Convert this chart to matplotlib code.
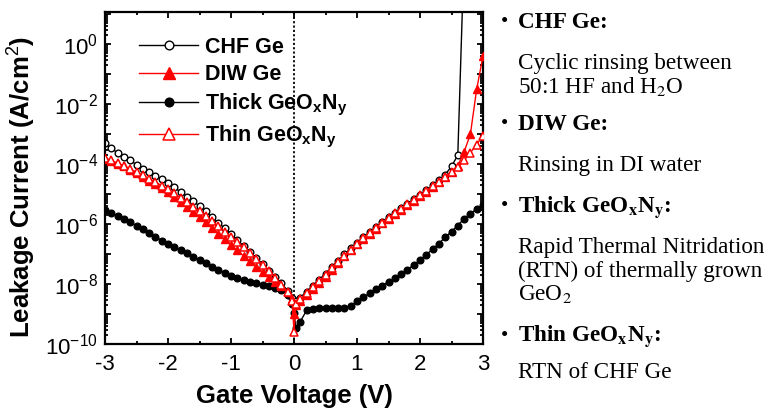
import numpy as np
import matplotlib
matplotlib.use("Agg")
import matplotlib.pyplot as plt
from matplotlib.ticker import LogLocator, FuncFormatter, MultipleLocator, NullFormatter

plt.rcParams['font.family'] = ['Liberation Sans', 'DejaVu Sans']
plt.rcParams['mathtext.fontset'] = 'custom'
plt.rcParams['mathtext.rm'] = 'Liberation Sans'
plt.rcParams['mathtext.it'] = 'Liberation Sans:italic'
plt.rcParams['mathtext.bf'] = 'Liberation Sans:bold'
plt.rcParams['axes.unicode_minus'] = False

# gate voltage samples (V)
volts = np.concatenate([np.arange(-3.0, -0.05, 0.1), [-0.03, 0.0, 0.03], np.arange(0.1, 3.05, 0.1)])

# log10 of leakage current density (A/cm^2)
chf_log = [-3.30, -3.48, -3.62, -3.76, -3.88, -4.02, -4.15, -4.27, -4.39, -4.51,
           -4.63, -4.78, -4.93, -5.09, -5.24, -5.40, -5.58, -5.77, -5.96, -6.14,
           -6.33, -6.53, -6.73, -6.93, -7.13, -7.33, -7.55, -7.76, -7.98, -8.22,
           -8.45, -8.60, -8.55,
           -8.45, -8.25, -8.05, -7.85, -7.65, -7.44, -7.22, -7.01, -6.81, -6.62,
           -6.44, -6.27, -6.10, -5.93, -5.77, -5.62, -5.47, -5.32, -5.17, -5.02,
           -4.87, -4.71, -4.54, -4.35, -4.08, -3.70, 3.0, np.nan, np.nan, np.nan]

diw_log = [-3.82, -3.90, -3.99, -4.08, -4.19, -4.31, -4.43, -4.55, -4.68, -4.80,
           -4.93, -5.09, -5.25, -5.42, -5.59, -5.75, -5.94, -6.13, -6.32, -6.51,
           -6.70, -6.88, -7.06, -7.24, -7.42, -7.60, -7.78, -7.93, -8.07, -8.28,
           -8.50, -9.00, -8.70,
           -8.55, -8.35, -8.15, -7.95, -7.75, -7.53, -7.30, -7.08, -6.88, -6.68,
           -6.50, -6.32, -6.15, -5.98, -5.82, -5.67, -5.52, -5.37, -5.22, -5.07,
           -4.92, -4.76, -4.60, -4.43, -4.25, -4.05, -3.60, -3.00, -1.50, -0.40]

thick_log = [-5.53, -5.63, -5.73, -5.83, -5.94, -6.05, -6.17, -6.30, -6.42, -6.55,
             -6.68, -6.78, -6.88, -6.98, -7.09, -7.20, -7.31, -7.42, -7.53, -7.63,
             -7.72, -7.80, -7.87, -7.93, -7.98, -8.02, -8.07, -8.12, -8.20, -8.38,
             -8.65, -8.97, -9.45,
             -9.25, -8.88, -8.82, -8.80, -8.80, -8.80, -8.80, -8.79, -8.72, -8.58,
             -8.44, -8.31, -8.18, -8.05, -7.93, -7.81, -7.67, -7.52, -7.36, -7.20,
             -7.02, -6.84, -6.65, -6.44, -6.25, -6.05, -5.82, -5.65, -5.50, -5.37]

thin_log = [-3.80, -3.88, -3.97, -4.06, -4.16, -4.27, -4.38, -4.49, -4.60, -4.72,
            -4.84, -4.98, -5.12, -5.27, -5.42, -5.57, -5.74, -5.91, -6.08, -6.25,
            -6.42, -6.60, -6.78, -6.97, -7.16, -7.36, -7.57, -7.79, -8.02, -8.28,
            -8.55, -9.60, -8.65,
            -8.50, -8.30, -8.10, -7.90, -7.70, -7.48, -7.26, -7.05, -6.85, -6.65,
            -6.47, -6.29, -6.12, -5.95, -5.79, -5.64, -5.49, -5.34, -5.19, -5.04,
            -4.89, -4.74, -4.59, -4.44, -4.28, -4.10, -3.88, -3.62, -3.35, -3.05]

labels = ['CHF Ge', 'DIW Ge', r'Thick GeO$_\mathbf{x}$N$_\mathbf{y}$', r'Thin GeO$_\mathbf{x}$N$_\mathbf{y}$']

# text panel on the right: (y pixel from top, text, bold)
notes = [
    (22, r'CHF Ge:', True),
    (63, 'Cyclic rinsing between', False),
    (87, r'50:1 HF and H$_2$O', False),
    (124, 'DIW Ge:', True),
    (166, 'Rinsing in DI water', False),
    (207, r'Thick GeO$_\mathbf{x}$N$_\mathbf{y}$:', True),
    (247, 'Rapid Thermal Nitridation', False),
    (271, '(RTN) of thermally grown', False),
    (294, r'GeO$_2$', False),
    (336, r'Thin GeO$_\mathbf{x}$N$_\mathbf{y}$:', True),
    (373, 'RTN of CHF Ge', False),
]

W, H = 769, 409
fig = plt.figure(figsize=(W / 100, H / 100), dpi=100)
ax = fig.add_axes([105 / W, 1 - 344 / H, 378 / W, 332 / H])

ax.axvline(0, color='black', ls=(0, (1.2, 1.2)), lw=1.3, zorder=1)

ax.plot(volts, 10 ** np.array(chf_log), color='black', lw=1, marker='o', ms=4.8,
        mfc='white', mec='black', mew=1, label=labels[0], zorder=2)
ax.plot(volts, 10 ** np.array(thick_log), color='black', lw=1, marker='o', ms=4.8,
        mfc='black', mec='black', label=labels[2], zorder=2)
ax.plot(volts, 10 ** np.array(diw_log), color='red', lw=1, marker='^', ms=6.3,
        mfc='red', mec='red', label=labels[1], zorder=3)
ax.plot(volts, 10 ** np.array(thin_log), color='red', lw=1, marker='^', ms=6.3,
        mfc='white', mec='red', mew=1.1, label=labels[3], zorder=4)

ax.set_yscale('log')
ax.set_xlim(-3, 3)
ax.set_ylim(1e-10, 10 ** 1.07)

ax.xaxis.set_major_locator(MultipleLocator(1))
ax.xaxis.set_minor_locator(MultipleLocator(0.5))
ax.yaxis.set_major_locator(LogLocator(base=10, numticks=30))
ax.yaxis.set_minor_locator(LogLocator(base=10, subs=np.arange(2, 10), numticks=30))
ax.yaxis.set_minor_formatter(NullFormatter())


def dec_fmt(v, pos):
    e = int(round(np.log10(v)))
    return r'$10^{%d}$' % e if e % 2 == 0 else ''


ax.yaxis.set_major_formatter(FuncFormatter(dec_fmt))
ax.tick_params(which='both', direction='in', top=True, right=True, width=1.3)
ax.tick_params(which='major', length=4.5, labelsize=16)
ax.tick_params(which='minor', length=2.5)
ax.tick_params(axis='x', pad=7)
ax.tick_params(axis='y', pad=5)
for s in ax.spines.values():
    s.set_linewidth(1.6)

ax.set_xlabel('Gate Voltage (V)', fontsize=18.5, fontweight='bold', labelpad=7)
ax.set_ylabel(r'Leakage Current (A/cm$^2$)', fontsize=18.5, fontweight='bold')
ax.yaxis.set_label_coords(-0.177, 0.473)

handles, labs = ax.get_legend_handles_labels()
order = [0, 2, 1, 3]
leg = ax.legend([handles[i] for i in order], [labs[i] for i in order],
                loc='upper left', bbox_to_anchor=(0.09, 0.925), frameon=False,
                prop={'weight': 'bold', 'size': 15.5}, handlelength=2.75,
                handletextpad=0.3, labelspacing=0.3, borderpad=0, borderaxespad=0,
                markerscale=1.3)

for y, txt, bold in notes:
    fy = 1 - y / H
    if bold:
        fig.text(505 / W, fy, u'\u2022', fontsize=15, family='Liberation Serif', ha='center', va='center')
    fig.text(518 / W, fy, txt, fontsize=16.7, family='Liberation Serif',
             fontweight='bold' if bold else 'normal', ha='left', va='center',
             math_fontfamily='stix')

fig.savefig('out.png', dpi=100)
